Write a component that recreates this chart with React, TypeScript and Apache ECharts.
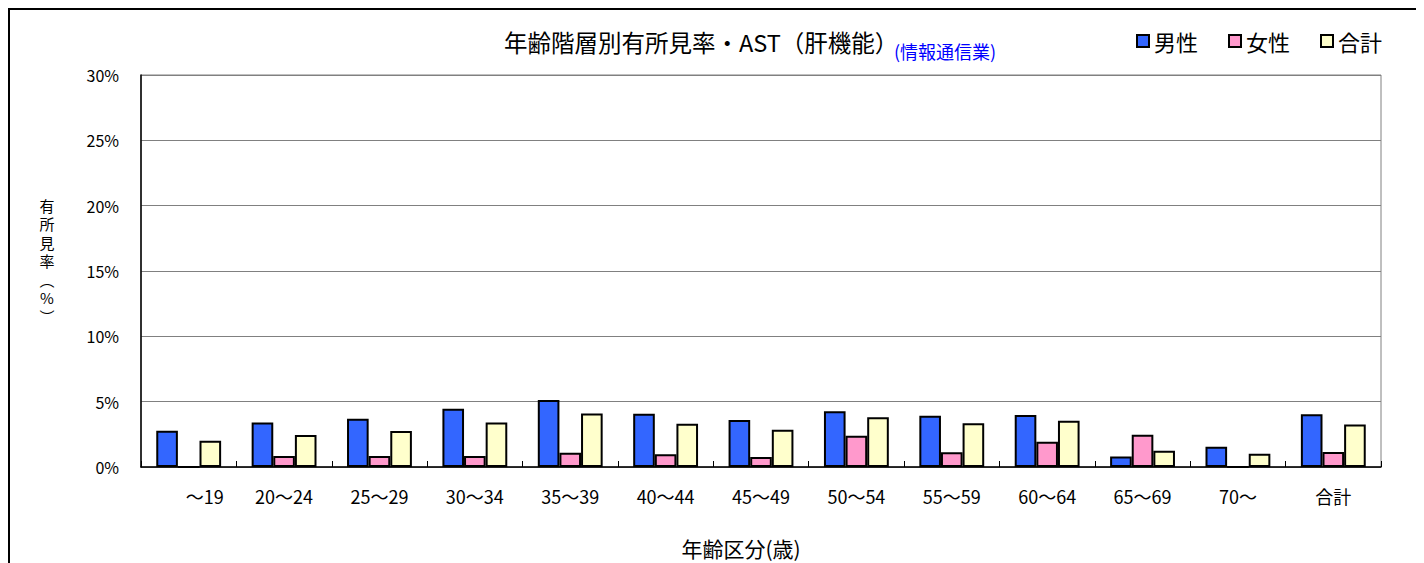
import React, { useEffect, useRef } from "react";
import * as echarts from "echarts";

const categories = ["～19", "20～24", "25～29", "30～34", "35～39", "40～44", "45～49", "50～54", "55～59", "60～64", "65～69", "70～", "合計"];
const maleValues = [2.78, 3.41, 3.7, 4.46, 5.13, 4.08, 3.6, 4.26, 3.93, 3.98, 0.81, 1.55, 4.03];
const femaleValues = [0, 0.84, 0.84, 0.84, 1.09, 0.97, 0.77, 2.4, 1.12, 1.94, 2.47, 0, 1.15];
const totalValues = [2.0, 2.45, 2.75, 3.41, 4.1, 3.31, 2.85, 3.8, 3.34, 3.54, 1.25, 1.02, 3.26];
const seriesNames = ["男性", "女性", "合計"];
const yTicks = [0, 5, 10, 15, 20, 25, 30];
const yAxisNameChars = ["有", "所", "見", "率", "︵", "%", "︶"];

const FONT = "'Noto Sans CJK JP', 'Noto Sans', sans-serif";

export default function App() {
  const ref = useRef<HTMLDivElement>(null);
  useEffect(() => {
    if (!ref.current) return;
    const chart = echarts.init(ref.current, undefined, { renderer: "svg" });
    const mk = (name: string, data: number[], color: string) => ({
      name,
      type: "bar",
      data,
      barGap: "0%",
      barCategoryGap: "32%",
      itemStyle: { color, borderColor: "#000", borderWidth: 2 },
    });
    const yNameTexts = yAxisNameChars.map((c, i) => ({
      type: "text",
      x: 37,
      y: 195 + i * 18.5,
      style: {
        text: c,
        fontSize: 15,
        fill: "#000",
        fontFamily: FONT,
        align: "center",
        verticalAlign: "middle",
      },
    }));
    chart.setOption({
      animation: false,
      textStyle: { fontFamily: FONT },
      title: {
        left: 494,
        top: 17,
        padding: 0,
        text: "年齢階層別有所見率・AST（肝機能）",
        textStyle: { fontSize: 23.5, color: "#000", fontFamily: FONT, fontWeight: "normal", lineHeight: 30 },
      },
      legend: {
        left: 1121,
        top: 15,
        itemWidth: 12,
        itemHeight: 12,
        itemGap: 30,
        icon: "rect",
        data: seriesNames,
        textStyle: { fontSize: 22, color: "#000", fontFamily: FONT },
      },
      grid: {
        left: 131,
        top: 65,
        width: 1240,
        height: 392,
        show: true,
        borderColor: "#808080",
        borderWidth: 1,
        containLabel: false,
      },
      xAxis: {
        type: "category",
        data: categories,
        axisLine: { lineStyle: { color: "#000", width: 1.5 } },
        axisTick: { show: true, inside: true, length: 6, lineStyle: { color: "#000" } },
        axisLabel: {
          color: "#000",
          fontSize: 18,
          margin: 20,
          fontFamily: FONT,
          formatter: (v: string, i: number) => (i === 0 ? "{p|" + v + "}" : v),
          rich: { p: { fontSize: 18, padding: [0, 0, 0, 32], fontFamily: FONT } },
        },
      },
      yAxis: {
        type: "value",
        min: yTicks[0],
        max: yTicks[yTicks.length - 1],
        interval: 5,
        axisLine: { show: true, lineStyle: { color: "#000", width: 1.5 } },
        axisTick: { show: false },
        axisLabel: { color: "#000", fontSize: 16, margin: 22, formatter: "{value}%", fontFamily: FONT },
        splitLine: { show: true, lineStyle: { color: "#808080", width: 1 } },
      },
      graphic: [
        ...yNameTexts,
        {
          type: "text",
          x: 884,
          y: 41,
          style: {
            text: "(情報通信業)",
            fontSize: 18,
            fill: "#0000FF",
            fontFamily: FONT,
            align: "left",
            verticalAlign: "middle",
          },
        },
        {
          type: "text",
          x: 731,
          y: 538,
          style: {
            text: "年齢区分(歳)",
            fontSize: 21,
            fill: "#000",
            fontFamily: FONT,
            align: "center",
            verticalAlign: "middle",
          },
        },
      ],
      series: [
        mk(seriesNames[0], maleValues, "#3366FF"),
        mk(seriesNames[1], femaleValues, "#FF99CC"),
        mk(seriesNames[2], totalValues, "#FFFFCC"),
      ],
    });
    return () => chart.dispose();
  }, []);
  return (
    <div
      style={{
        width: 1416,
        height: 555,
        borderTop: "2px solid #000",
        borderLeft: "2px solid #000",
        boxSizing: "border-box",
        overflow: "hidden",
      }}
    >
      <div ref={ref} style={{ width: 1414, height: 553 }} />
    </div>
  );
}
